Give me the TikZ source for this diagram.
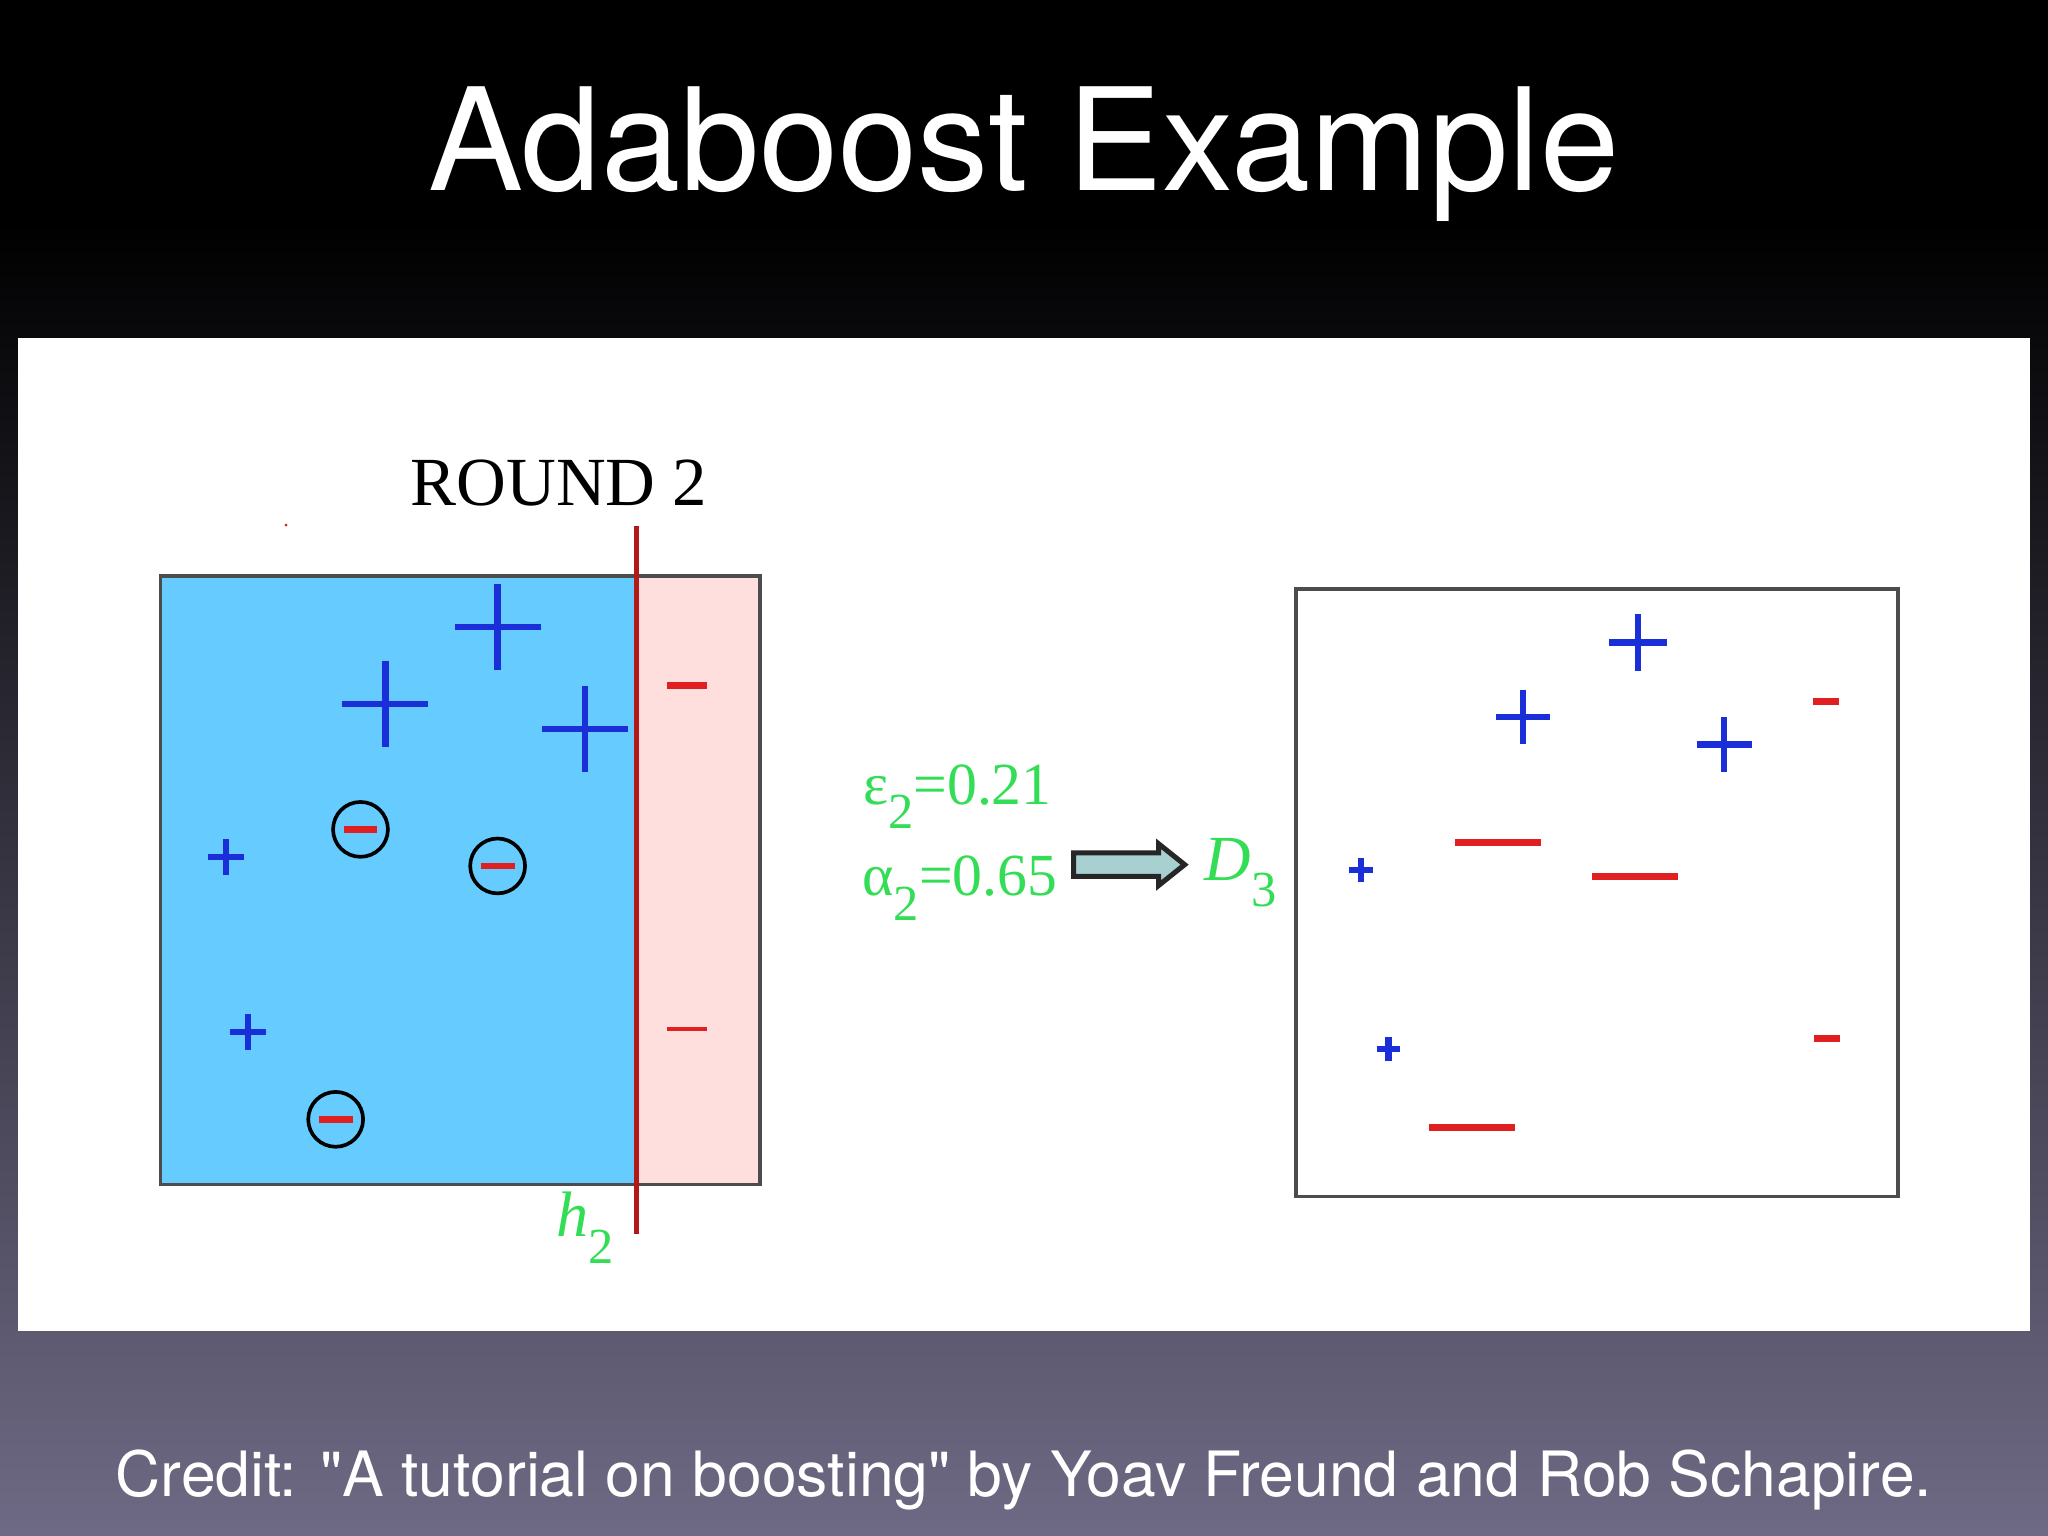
\documentclass[tikz,border=0pt]{standalone}
\usepackage{fontspec}
\setmainfont{Liberation Serif}
\newfontfamily\heros{TeX Gyre Heros}
\definecolor{bluefill}{HTML}{66CCFF}
\definecolor{pinkfill}{HTML}{FFDEDE}
\definecolor{gtext}{HTML}{33DD55}
\definecolor{bgbot}{HTML}{6E6A85}
\definecolor{pblue}{HTML}{1A2FD8}
\definecolor{mred}{HTML}{E02020}
\definecolor{arrfill}{HTML}{A8D0D0}
\newcommand{\sbx}[1]{\raisebox{-0.9ex}{\fontsize{11}{11}\selectfont\upshape #1}}
\begin{document}
\begin{tikzpicture}[x=0.01cm,y=-0.01cm,
  pl/.style={pblue,line width=1.4pt},
  mn/.style={mred,line width=1.5pt},
  gt/.style={gtext,font=\fontsize{13}{13}\selectfont,inner sep=0pt}]
\useasboundingbox (0,0) rectangle (1568,1176);
\fill[black] (0,0) rectangle (1568,170);
\shade[top color=black,bottom color=bgbot] (0,170) rectangle (1568,1176);
\node[white,font=\heros\fontsize{31}{31}\selectfont] (title) at (784,118) {Adaboost Example};
\node[white,font=\heros\fontsize{13.6}{13.6}\selectfont] (credit) at (784,1133) {Credit: "A tutorial on boosting" by Yoav Freund and Rob Schapire.};
\fill[white] (14,259) rectangle (1554,1019);
% left box
\fill[bluefill] (123,441) rectangle (487,907);
\fill[pinkfill] (487,441) rectangle (582,907);
\draw[black!70,line width=0.8pt] (123,441) rectangle (582,907);
\draw[mred!80!black,line width=1.1pt] (487,403) -- (487,945);
\fill[mred] (219,402) circle (1.2);
\node[font=\fontsize{15}{15}\selectfont] (round) at (428,370) {ROUND 2};
\foreach \x/\y/\a in {381/480/33,295/539/33,448/558/33,173/656/14,190/790/14}
  \draw[pl] (\x-\a,\y) -- (\x+\a,\y) (\x,\y-\a) -- (\x,\y+\a);
\foreach \x/\y in {276/635,381/663,257/857}{
  \draw[black,line width=0.8pt] (\x,\y) circle (21);
  \draw[mn] (\x-13,\y) -- (\x+13,\y);}
\draw[mn] (511,525) -- (541,525);
\draw[mred,line width=0.8pt] (511,788) -- (541,788);
\node[gt,font=\fontsize{14}{14}\selectfont\itshape] (h2) at (448,940) {h\sbx{2}};
% middle
\node[gt] (eps) at (733,610) {ε\sbx{2}=0.21};
\node[gt] (alp) at (735,680) {α\sbx{2}=0.65};
\draw[black!85,fill=arrfill,line width=1.1pt,line join=miter]
  (822,653) -- (887,653) -- (887,646) -- (907,662) -- (887,678) -- (887,671) -- (822,671) -- cycle;
\node[gt,font=\fontsize{14}{14}\selectfont\itshape] (d3) at (950,668) {D\sbx{3}};
% right box
\draw[black!70,line width=0.8pt] (992,451) rectangle (1453,916);
\foreach \x/\y/\a in {1254/492/22,1166/549/21,1320/570/21,1042/666/9,1063/803/9}
  \draw[pl] (\x-\a,\y) -- (\x+\a,\y) (\x,\y-\a) -- (\x,\y+\a);
\foreach \x/\y/\w in {1398/537/10,1147/645/33,1252/671/33,1399/795/10,1127/863/33}
  \draw[mn] (\x-\w,\y) -- (\x+\w,\y);
\end{tikzpicture}
\end{document}
